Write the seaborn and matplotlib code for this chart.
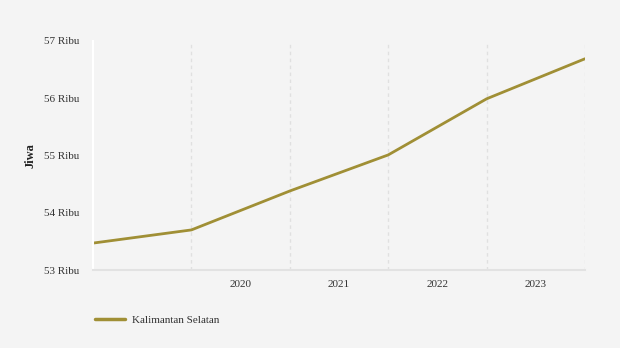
import matplotlib
matplotlib.use("Agg")
import matplotlib.pyplot as plt
import seaborn as sns
import pandas as pd
from matplotlib.ticker import FixedLocator, NullFormatter
from matplotlib.lines import Line2D

# Data
x_pos = [0, 1, 2, 3, 4, 5]
values = [53.47, 53.70, 54.38, 55.01, 55.99, 56.69]
series_name = "Kalimantan Selatan"
year_labels = ["2020", "2021", "2022", "2023"]
year_label_pos = [1.5, 2.5, 3.5, 4.5]
y_ticks = [53, 54, 55, 56, 57]
y_tick_labels = ["53 Ribu", "54 Ribu", "55 Ribu", "56 Ribu", "57 Ribu"]

df = pd.DataFrame({"x": x_pos, "y": values, "series": series_name})

sns.set_theme(style="white")
plt.rcParams["font.family"] = ["Liberation Serif", "DejaVu Serif"]

bg = "#F4F4F4"
color = "#A08F35"

fig = plt.figure(figsize=(6.2, 3.48), dpi=100, facecolor=bg)
ax = fig.add_axes([93/620, 1-270/348, (585-93)/620, (270-41)/348])
ax.set_facecolor(bg)

sns.lineplot(data=df, x="x", y="y", ax=ax, color=color, linewidth=2.0, legend=False)

ax.set_xlim(0, 5)
ax.set_ylim(53, 57)

# Grid lines
ax.xaxis.set_major_locator(FixedLocator([1, 2, 3, 4, 5]))
ax.xaxis.set_major_formatter(NullFormatter())
ax.xaxis.set_minor_locator(FixedLocator(year_label_pos))
ax.set_xticklabels(year_labels, minor=True)
ax.tick_params(axis="x", which="major", length=5, width=1, color="#E0E0E0", direction="out")
ax.tick_params(axis="x", which="minor", length=0, labelsize=8, pad=7, labelcolor="#333333")
for xv in [1, 2, 3, 4, 5]:
    ax.axvline(xv, color="#E0E0E0", linewidth=1, linestyle=(0, (2.5, 2.5)), zorder=0)

ax.set_yticks(y_ticks)
ax.set_yticklabels(y_tick_labels)
ax.tick_params(axis="y", length=5, width=1.5, color="white", labelsize=8, pad=5, labelcolor="#333333")

for s in ["top", "right"]:
    ax.spines[s].set_visible(False)
ax.spines["left"].set_color("white")
ax.spines["left"].set_linewidth(1.5)
ax.spines["bottom"].set_color("#E2E2E2")
ax.spines["bottom"].set_linewidth(1.5)

ax.set_xlabel("")
ax.set_ylabel("Jiwa", fontsize=9, fontweight="bold", color="#222222")
ax.yaxis.set_label_coords(-(93-30)/492, 0.5)
ax.yaxis.label.set_verticalalignment("center")

handle = Line2D([0], [0], color=color, linewidth=2.5)
leg = fig.legend([handle], [series_name], loc="center left",
                 bbox_to_anchor=(85/620, 1-320/348), frameon=False,
                 fontsize=8, handlelength=2.7, handletextpad=0.6)
for t in leg.get_texts():
    t.set_color("#333333")

fig.savefig("out.png", dpi=100, facecolor=bg)
